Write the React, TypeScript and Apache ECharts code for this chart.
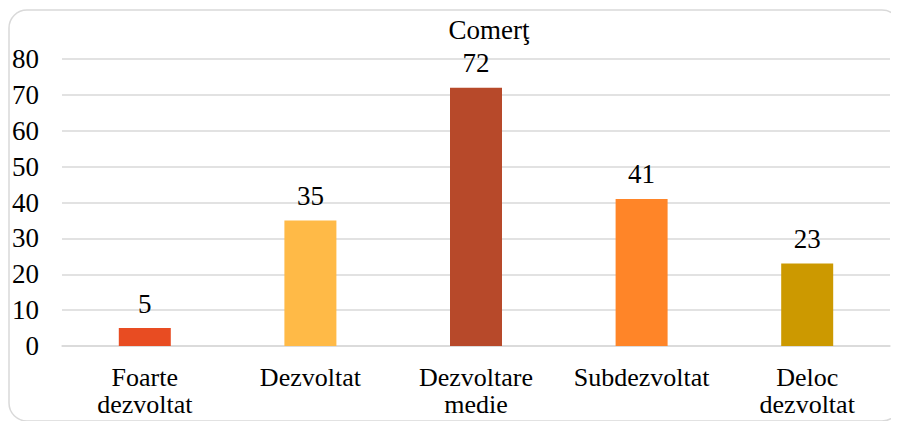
import React, { useEffect, useRef } from "react";
import * as echarts from "echarts";

const title = "Comerţ";
const categories = ["Foarte\ndezvoltat", "Dezvoltat", "Dezvoltare\nmedie", "Subdezvoltat", "Deloc\ndezvoltat"];
const values = [5, 35, 72, 41, 23];
const barColors = ["#E84C22", "#FFBA47", "#B7492A", "#FF8528", "#CC9900"];
const yTicks = { min: 0, max: 80, interval: 10 };

const FONT = "Times New Roman, Liberation Serif, DejaVu Serif, serif";
const FS = 27;

export default function App() {
  const ref = useRef<HTMLDivElement>(null);
  useEffect(() => {
    const chart = echarts.init(ref.current!, undefined, { renderer: "svg" });
    chart.setOption({
      animation: false,
      textStyle: { fontFamily: FONT, color: "#000" },
      graphic: [
        {
          type: "rect",
          shape: { x: 1, y: 2, width: 891, height: 411, r: 18 },
          style: { fill: "none", stroke: "#D9D9D9", lineWidth: 1.5 },
          silent: true,
          z: -1,
        },
        {
          type: "text",
          x: 481,
          y: 22,
          style: {
            text: title,
            fontFamily: FONT,
            fontSize: FS,
            fill: "#000",
            align: "center",
            verticalAlign: "middle",
          },
        },
      ],
      grid: { left: 54, right: 9, top: 51, bottom: 75, containLabel: false },
      xAxis: {
        type: "category",
        data: categories,
        axisLine: { lineStyle: { color: "#D9D9D9", width: 1.5 } },
        axisTick: { show: false },
        axisLabel: {
          fontFamily: FONT,
          fontSize: 26,
          color: "#000",
          lineHeight: 27,
          margin: 18,
          interval: 0,
        },
      },
      yAxis: {
        type: "value",
        min: yTicks.min,
        max: yTicks.max,
        interval: yTicks.interval,
        axisLine: { show: false },
        axisTick: { show: false },
        splitLine: { lineStyle: { color: "#D9D9D9", width: 1.5 } },
        axisLabel: { fontFamily: FONT, fontSize: FS, color: "#000", margin: 23 },
      },
      series: [
        {
          type: "bar",
          barWidth: 52,
          data: values.map((v, i) => ({ value: v, itemStyle: { color: barColors[i] } })),
          label: {
            show: true,
            position: "top",
            distance: 11,
            fontFamily: FONT,
            fontSize: FS,
            color: "#000",
          },
        },
      ],
    });
    return () => chart.dispose();
  }, []);
  return <div ref={ref} style={{ width: 891, height: 413 }} />;
}
